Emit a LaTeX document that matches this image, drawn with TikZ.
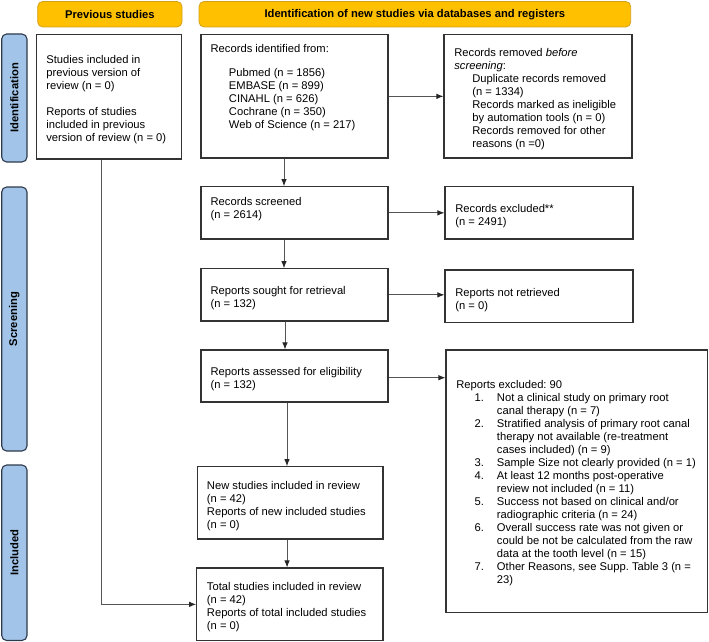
\documentclass[tikz,border=0pt]{standalone}
\usepackage{fontspec}
\setmainfont{Liberation Sans}
\frenchspacing
\usetikzlibrary{arrows.meta}
\definecolor{hdrfill}{HTML}{FFC000}
\definecolor{hdrline}{HTML}{D4A017}
\definecolor{sidefill}{HTML}{A2C4E8}
\definecolor{sideline}{HTML}{2E3A4C}
\definecolor{boxline}{HTML}{333333}
\definecolor{arrline}{HTML}{555555}
\tikzset{
  basefont/.style={font=\fontsize{11.2}{13}\selectfont},
  box/.style={draw=boxline, line width=1.1pt, fill=white, inner sep=0pt},
  hdr/.style={draw=hdrline, line width=0.8pt, fill=hdrfill, rounded corners=5pt, font=\fontsize{11.2}{13}\selectfont\bfseries, inner sep=0pt},
  side/.style={draw=sideline, line width=1.1pt, fill=sidefill, rounded corners=5pt, font=\fontsize{11.2}{13}\selectfont\bfseries, inner sep=0pt, rotate=90},
  txt/.style={basefont, align=left, inner sep=0pt, anchor=west},
  arr/.style={draw=arrline, line width=0.9pt, -{Latex[length=7pt,width=5.5pt,color=black!85]}},
}
\begin{document}
\begin{tikzpicture}[x=1pt,y=-1pt]
\useasboundingbox (0,0) rectangle (709,642);

% headers
\node[hdr, minimum width=144.3pt, minimum height=25.5pt] (hprev) at (109.85,14.25) {Previous studies};
\node[hdr, minimum width=431.7pt, minimum height=25.5pt] (hnew) at (414.85,14.25) {Identification of new studies via databases and registers};

% side bars
\node[side, minimum width=128pt, minimum height=25.3pt] (sid) at (14.35,98) {Identification};
\node[side, minimum width=264pt, minimum height=25.3pt] (sscr) at (14.35,319) {Screening};
\node[side, minimum width=175.5pt, minimum height=25.3pt] (sinc) at (14.35,552.75) {Included};

% boxes
\node[box, minimum width=145pt, minimum height=124.3pt] (prev) at (109.2,96.85) {};
\node[box, minimum width=187pt, minimum height=123.3pt] (ident) at (294.5,96.35) {};
\node[box, minimum width=188pt, minimum height=123.3pt] (removed) at (538,96.35) {};
\node[box, minimum width=187pt, minimum height=52.3pt] (screened) at (294.5,212.85) {};
\node[box, minimum width=188pt, minimum height=52.3pt] (excluded) at (539,212.85) {};
\node[box, minimum width=187pt, minimum height=52.3pt] (sought) at (294.5,294.85) {};
\node[box, minimum width=188pt, minimum height=52.7pt] (notret) at (539,296.35) {};
\node[box, minimum width=187pt, minimum height=52pt] (assessed) at (294.5,376) {};
\node[box, minimum width=261.7pt, minimum height=262.7pt] (repexcl) at (576.85,481.35) {};
\node[box, minimum width=185.3pt, minimum height=72.3pt] (newinc) at (290.35,502.85) {};
\node[box, minimum width=186.3pt, minimum height=72.7pt] (total) at (289.85,604.35) {};

% texts
\node[txt] (prevtxt) at ([shift={(10,2.6)}]prev.west)
 {Studies included in\\previous version of\\review (n = 0)\\[13pt]Reports of studies\\included in previous\\version of review (n = 0)};

\node[txt] (identtxt) at ([shift={(10,-9)}]ident.west)
 {Records identified from:\\[11.3pt]
  \hspace*{18.3pt}Pubmed (n = 1856)\\
  \hspace*{18.3pt}EMBASE (n = 899)\\
  \hspace*{18.3pt}CINAHL (n = 626)\\
  \hspace*{18.3pt}Cochrane (n = 350)\\
  \hspace*{18.3pt}Web of Science (n = 217)};

\node[txt] (removedtxt) at ([shift={(10.7,2.8)}]removed.west)
 {Records removed \textit{before}\\
  \textit{screening}:\\
  \hspace*{18pt}Duplicate records removed\\
  \hspace*{18pt}(n = 1334)\\
  \hspace*{18pt}Records marked as ineligible\\
  \hspace*{18pt}by automation tools (n = 0)\\
  \hspace*{18pt}Records removed for other\\
  \hspace*{18pt}reasons (n =0)};

\node[txt] (screenedtxt) at ([shift={(10,-4)}]screened.west)
 {Records screened\\(n = 2614)};

\node[txt] (excludedtxt) at ([shift={(10.7,2.75)}]excluded.west)
 {Records excluded**\\(n = 2491)};

\node[txt] (soughttxt) at ([shift={(10,2.85)}]sought.west)
 {Reports sought for retrieval\\(n = 132)};

\node[txt] (notrettxt) at ([shift={(10.7,3.35)}]notret.west)
 {Reports not retrieved\\(n = 0)};

\node[txt] (assessedtxt) at ([shift={(10,3)}]assessed.west)
 {Reports assessed for eligibility\\(n = 132)};

\node[txt] (repexcltxt) at ([shift={(10.7,2.15)}]repexcl.west)
 {Reports excluded: 90\\
  \hspace*{18.3pt}\makebox[22.3pt][l]{1.}Not a clinical study on primary root\\
  \hspace*{40.6pt}canal therapy (n = 7)\\
  \hspace*{18.3pt}\makebox[22.3pt][l]{2.}Stratified analysis of primary root canal\\
  \hspace*{40.6pt}therapy not available (re-treatment\\
  \hspace*{40.6pt}cases included) (n = 9)\\
  \hspace*{18.3pt}\makebox[22.3pt][l]{3.}Sample Size not clearly provided (n = 1)\\
  \hspace*{18.3pt}\makebox[22.3pt][l]{4.}At least 12 months post-operative\\
  \hspace*{40.6pt}review not included (n = 11)\\
  \hspace*{18.3pt}\makebox[22.3pt][l]{5.}Success not based on clinical and/or\\
  \hspace*{40.6pt}radiographic criteria (n = 24)\\
  \hspace*{18.3pt}\makebox[22.3pt][l]{6.}Overall success rate was not given or\\
  \hspace*{40.6pt}could be not be calculated from the raw\\
  \hspace*{40.6pt}data at the tooth level (n = 15)\\
  \hspace*{18.3pt}\makebox[22.3pt][l]{7.}Other Reasons, see Supp. Table 3 (n =\\
  \hspace*{40.6pt}23)};

\node[txt] (newinctxt) at ([shift={(9.6,3.35)}]newinc.west)
 {New studies included in review\\(n = 42)\\Reports of new included studies\\(n = 0)};

\node[txt] (totaltxt) at ([shift={(10.6,3.15)}]total.west)
 {Total studies included in review\\(n = 42)\\Reports of total included studies\\(n = 0)};

% connectors
\draw[arr] ([xshift=-10.5pt]ident.south) -- ([xshift=-10.5pt]ident.south |- screened.north);
\draw[arr] ([xshift=-10.5pt]screened.south) -- ([xshift=-10.5pt]screened.south |- sought.north);
\draw[arr] ([xshift=-9.5pt]sought.south) -- ([xshift=-9.5pt]sought.south |- assessed.north);
\draw[arr] ([xshift=-7.5pt]assessed.south) -- ([xshift=-7.5pt]assessed.south |- newinc.north);
\draw[arr] ([xshift=-3.3pt]newinc.south) -- ([xshift=-3.3pt]newinc.south |- total.north);

\draw[arr] (ident.east) -- (ident.east -| removed.west);
\draw[arr] (screened.east) -- (screened.east -| excluded.west);
\draw[arr] (sought.east) -- (sought.east -| notret.west);
\draw[arr] ([yshift=-1.7pt]assessed.east) -- ([yshift=-1.7pt]assessed.east -| repexcl.west);

\draw[arr] ([xshift=-7.5pt]prev.south) |- (total.west);
\end{tikzpicture}
\end{document}
